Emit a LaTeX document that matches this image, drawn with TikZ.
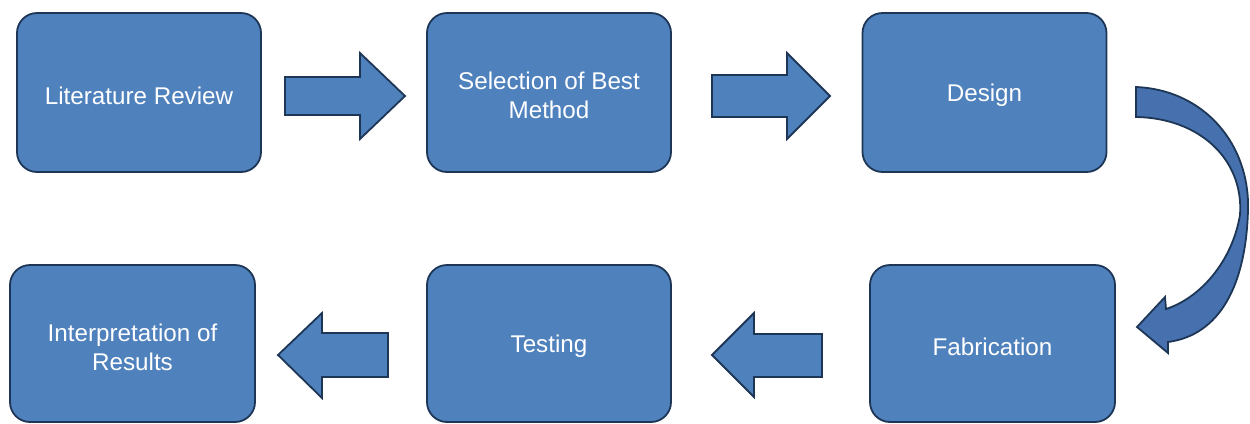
\documentclass[tikz,border=0pt]{standalone}
\usepackage{fontspec}
\setmainfont{Liberation Sans}
\definecolor{boxfill}{HTML}{4F81BD}
\definecolor{boxline}{HTML}{1E3656}
\definecolor{curvefill}{HTML}{4671AE}
\begin{document}
\begin{tikzpicture}[x=1bp,y=-1bp,
  box/.style={draw=boxline, line width=1.8bp, fill=boxfill, rounded corners=20bp,
    minimum width=244bp, minimum height=159bp, inner sep=0pt},
  boxtext/.style={text=white, align=center, font=\fontsize{24.3}{29}\selectfont, inner sep=0pt},
  blockarrow/.style={draw=boxline, line width=1.8bp, fill=boxfill, line join=miter},
  curvearrow/.style={draw=boxline, line width=1.8bp, fill=curvefill, line join=miter}]
\useasboundingbox (0,0) rectangle (1250,423);
% top row
\node[box] (lit) at (139,92.5) {};
\node[box] (sel) at (549,92.5) {};
\node[box] (des) at (984.5,92.5) {};
\node[boxtext] (litT) at ([yshift=-3bp]lit.center) {Literature Review};
\node[boxtext] (selT) at ([yshift=-3bp]sel.center) {Selection of Best\\Method};
\node[boxtext] (desT) at ([yshift=-3bp]des.center) {Design};
% bottom row
\node[box, minimum height=157bp, minimum width=245bp] (int) at (132.5,343.5) {};
\node[box, minimum height=157bp] (tes) at (549,343.5) {};
\node[box, minimum height=157bp, minimum width=245bp] (fab) at (992.5,343.5) {};
\node[boxtext] (intT) at ([yshift=-4bp]int.center) {Interpretation of\\Results};
\node[boxtext] (tesT) at ([yshift=-3bp]tes.center) {Testing};
\node[boxtext] (fabT) at ([yshift=-3bp]fab.center) {Fabrication};
% right block arrows (tip at shift)
\draw[blockarrow, shift={(405,96)}]
  (-120,-19) -- (-45,-19) -- (-45,-43) -- (0,0) -- (-45,43) -- (-45,19) -- (-120,19) -- cycle;
\draw[blockarrow, shift={(830,96)}]
  (-118,-21) -- (-43,-21) -- (-43,-43) -- (0,0) -- (-43,43) -- (-43,21) -- (-118,21) -- cycle;
% left block arrows
\draw[blockarrow, shift={(278,355)}]
  (110,-22) -- (44,-22) -- (44,-42) -- (0,0) -- (44,43) -- (44,22) -- (110,22) -- cycle;
\draw[blockarrow, shift={(712,355)}]
  (110,-21) -- (42,-21) -- (42,-42) -- (0,0) -- (42,42) -- (42,22) -- (110,22) -- cycle;
% curved arrow from Design to Fabrication
\draw[curvearrow]
  (1136,87) .. controls (1205,90) and (1250,145) .. (1248,210)
  .. controls (1246,285) and (1220,335) .. (1168,342)
  -- (1168,353) -- (1137,327) -- (1165,297) -- (1166,309)
  .. controls (1200,298) and (1232,262) .. (1240,215)
  .. controls (1244,160) and (1200,118) .. (1136,117) -- cycle;
\end{tikzpicture}
\end{document}
